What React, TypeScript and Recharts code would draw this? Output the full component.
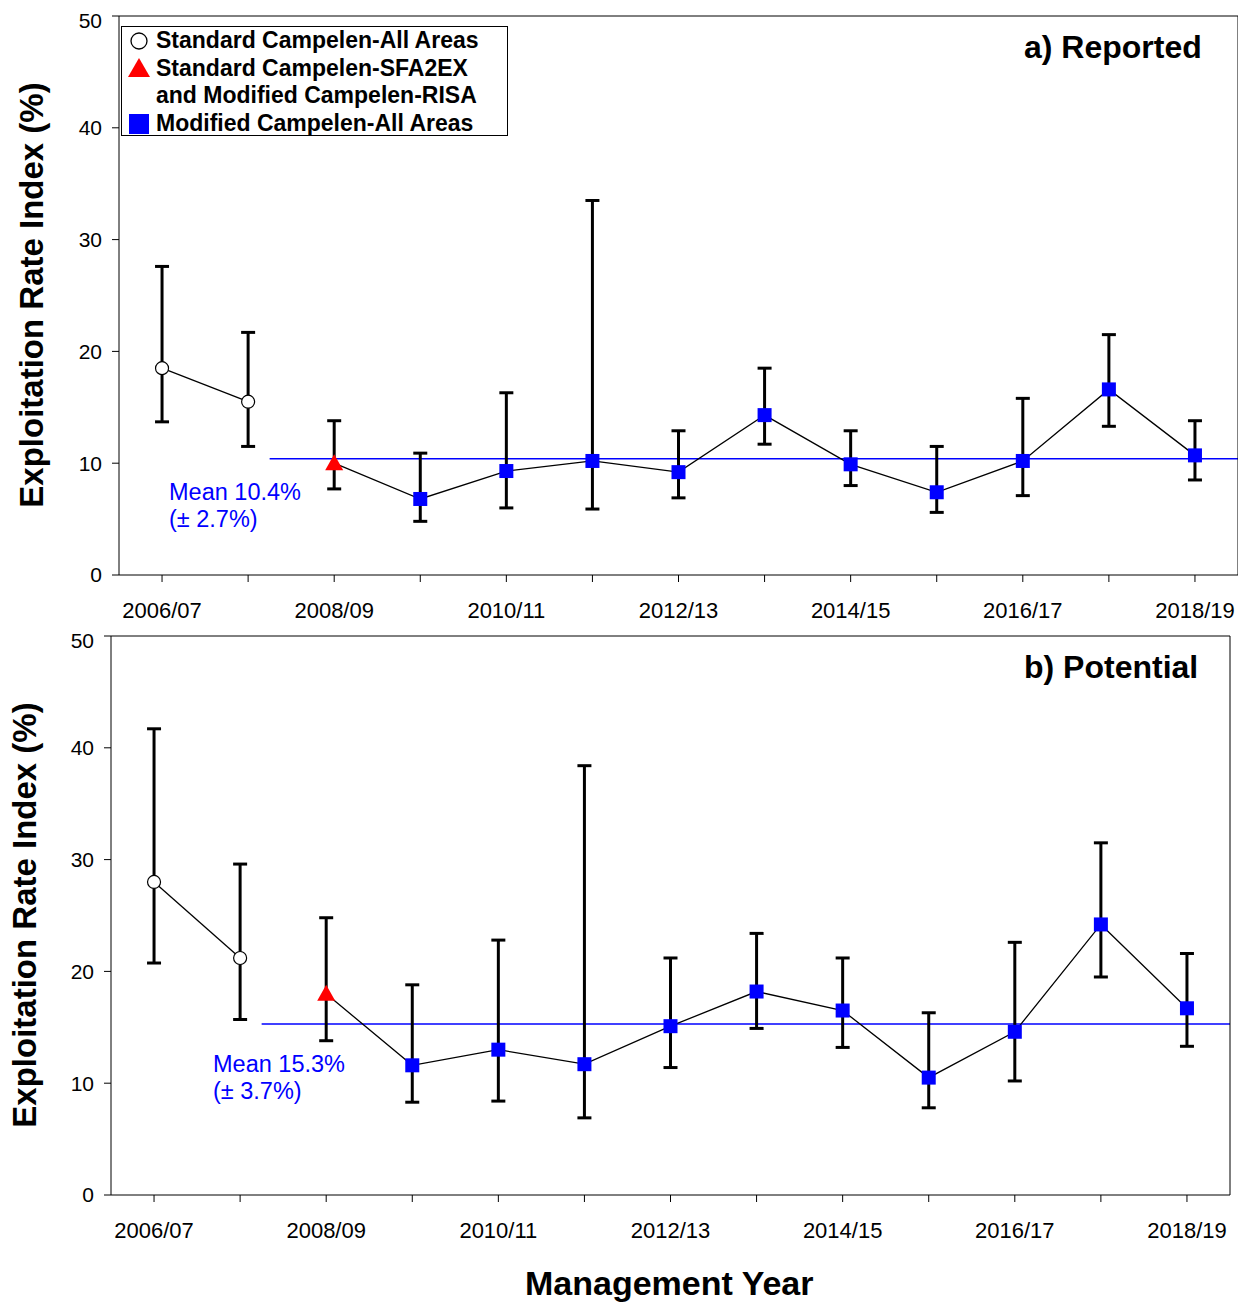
import React from "react";
import { LineChart, Line, XAxis, YAxis, ErrorBar, ReferenceLine } from "recharts";

const years = ["2006/07","2007/08","2008/09","2009/10","2010/11","2011/12","2012/13","2013/14","2014/15","2015/16","2016/17","2017/18","2018/19"];
const kinds = ["circle","circle","triangle","square","square","square","square","square","square","square","square","square","square"];
const repVal = [18.5,15.5,10.0,6.8,9.3,10.2,9.2,14.3,9.9,7.4,10.2,16.6,10.7];
const repLow = [13.7,11.5,7.7,4.8,6.0,5.9,6.9,11.7,8.0,5.6,7.1,13.3,8.5];
const repHigh = [27.6,21.7,13.8,10.9,16.3,33.5,12.9,18.5,12.9,11.5,15.8,21.5,13.8];
const potVal = [28.0,21.2,18.0,11.6,13.0,11.7,15.1,18.2,16.5,10.5,14.6,24.2,16.7];
const potLow = [20.75,15.7,13.8,8.3,8.4,6.9,11.4,14.9,13.2,7.8,10.2,19.5,13.3];
const potHigh = [41.7,29.6,24.8,18.8,22.8,38.4,21.2,23.4,21.2,16.3,22.6,31.5,21.6];
const yTicks = [0,10,20,30,40,50];
const xTicks = [0,1,2,3,4,5,6,7,8,9,10,11,12];

function build(v: number[], lo: number[], hi: number[]) {
  return years.map((y, i) => ({
    x: i, kind: kinds[i],
    a: i < 2 ? v[i] : null, ea: i < 2 ? [v[i]-lo[i], hi[i]-v[i]] : null,
    b: i >= 2 ? v[i] : null, eb: i >= 2 ? [v[i]-lo[i], hi[i]-v[i]] : null,
  }));
}

const Dot = (p: any) => {
  const { cx, cy, payload } = p;
  if (cx == null || cy == null || p.value == null) return null;
  if (payload.kind === "circle") return <circle key={p.index} cx={cx} cy={cy} r={6.5} fill="#fff" stroke="#000" strokeWidth={1.2} />;
  if (payload.kind === "triangle") return <polygon key={p.index} points={`${cx},${cy-9} ${cx-9},${cy+7} ${cx+9},${cy+7}`} fill="#ff0000" />;
  return <rect key={p.index} x={cx-7} y={cy-7} width={14} height={14} fill="#0000ff" />;
};

const font = "Arial, 'Liberation Sans', sans-serif";

function Panel({ data, mean, ml, mr }: any) {
  return (
    <LineChart width={1238} height={620} data={data} margin={{ top: 7, left: 0, right: mr - 1, bottom: 0 }}>
      <XAxis xAxisId="b" dataKey="x" type="number" domain={[-0.5, 12.5]} ticks={xTicks}
        tickFormatter={(i: number) => (i % 2 === 0 ? years[i] : "")}
        tick={{ fill: "#000", fontSize: 22, fontFamily: font }} tickSize={7} tickMargin={20}
        stroke="#000" height={53} allowDataOverflow />
      <XAxis xAxisId="t" orientation="top" dataKey="x" type="number" domain={[-0.5, 12.5]} ticks={xTicks}
        tick={false} tickSize={7} stroke="#000" height={1} />
      <YAxis yAxisId="l" domain={[0, 50]} ticks={yTicks} width={ml} tickSize={7} tickMargin={10}
        tick={{ fill: "#000", fontSize: 21, fontFamily: font }} stroke="#000" />
      <YAxis yAxisId="r" orientation="right" domain={[0, 50]} ticks={yTicks} width={1} tick={false} tickLine={false} stroke="#000" />
      <ReferenceLine xAxisId="b" yAxisId="l" segment={[{ x: 1.25, y: mean }, { x: 12.5, y: mean }]} stroke="#0000ff" strokeWidth={1.5} />
      <Line xAxisId="b" yAxisId="l" dataKey="a" stroke="#000" strokeWidth={1.3} dot={Dot} isAnimationActive={false} connectNulls={false}>
        <ErrorBar dataKey="ea" width={7} stroke="#000" strokeWidth={3} direction="y" />
      </Line>
      <Line xAxisId="b" yAxisId="l" dataKey="b" stroke="#000" strokeWidth={1.3} dot={Dot} isAnimationActive={false} connectNulls={false}>
        <ErrorBar dataKey="eb" width={7} stroke="#000" strokeWidth={3} direction="y" />
      </Line>
    </LineChart>
  );
}

const abs = (s: any): any => ({ position: "absolute", fontFamily: font, whiteSpace: "nowrap", ...s });

export default function App() {
  const rep = build(repVal, repLow, repHigh);
  const pot = build(potVal, potLow, potHigh);
  return (
    <div style={{ position: "relative", width: 1238, height: 1294 }}>
      <div style={abs({ left: 0, top: 0 })}><Panel data={rep} mean={10.4} ml={111} mr={8} /></div>
      <div style={abs({ left: 0, top: 620 })}><Panel data={pot} mean={15.3} ml={103} mr={16} /></div>
      <div style={abs({ left: 1016, top: 21, fontSize: 32, fontWeight: "bold" })}>a) Reported</div>
      <div style={abs({ left: 1016, top: 641, fontSize: 32, fontWeight: "bold" })}>b) Potential</div>
      <div style={abs({ left: 161, top: 471, fontSize: 23.5, color: "#0000ff", lineHeight: "27px" })}>Mean 10.4%<br />(± 2.7%)</div>
      <div style={abs({ left: 205, top: 1043, fontSize: 23.5, color: "#0000ff", lineHeight: "27px" })}>Mean 15.3%<br />(± 3.7%)</div>
      <div style={abs({ left: 517, top: 1256, fontSize: 34, fontWeight: "bold" })}>Management Year</div>
      <div style={abs({ left: 24, top: 287, fontSize: 33, fontWeight: "bold", transform: "translate(-50%,-50%) rotate(-90deg)" })}>Exploitation Rate Index (%)</div>
      <div style={abs({ left: 17, top: 907, fontSize: 33, fontWeight: "bold", transform: "translate(-50%,-50%) rotate(-90deg)" })}>Exploitation Rate Index (%)</div>
      <div style={abs({ left: 113, top: 18, width: 387, height: 110, border: "1px solid #000", background: "#fff", fontSize: 23, fontWeight: "bold", lineHeight: "27.5px", padding: "0 0 0 3px", boxSizing: "border-box" })}>
        <div style={{ display: "flex", alignItems: "center" }}>
          <svg width={31} height={27}><circle cx={14} cy={14} r={8} fill="#fff" stroke="#000" strokeWidth={1.3} /></svg>Standard Campelen-All Areas</div>
        <div style={{ display: "flex", alignItems: "center" }}>
          <svg width={31} height={27}><polygon points="14,3 3,22 25,22" fill="#ff0000" /></svg>Standard Campelen-SFA2EX</div>
        <div style={{ paddingLeft: 31 }}>and Modified Campelen-RISA</div>
        <div style={{ display: "flex", alignItems: "center" }}>
          <svg width={31} height={27}><rect x={4} y={4} width={20} height={20} fill="#0000ff" /></svg>Modified Campelen-All Areas</div>
      </div>
    </div>
  );
}
